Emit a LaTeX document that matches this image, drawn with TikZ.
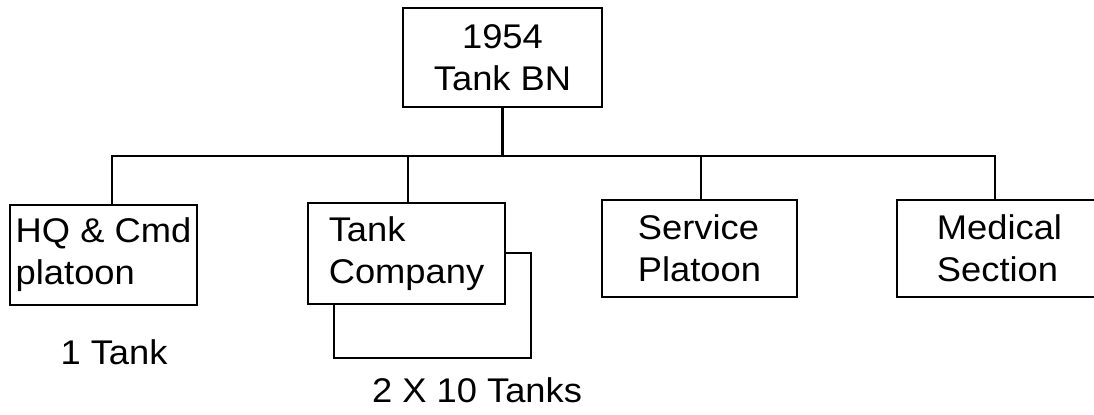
\documentclass[tikz,border=0pt]{standalone}
\usepackage{fontspec}
\setmainfont[FakeStretch=1.06]{Liberation Sans}
\usepackage{tikz}

\begin{document}
\begin{tikzpicture}[
  x=0.02cm, y=-0.02cm,
  font=\fontsize{19.5}{24}\selectfont,
  unit/.style={draw=black, line width=1.4pt, fill=white, align=left, inner sep=0pt, minimum width=3.95cm, minimum height=2cm},
  link/.style={draw=black, line width=1.4pt}
]
  \useasboundingbox (0,0) rectangle (1094,415);
  % battalion
  \node[unit, align=center, minimum width=3.98cm, minimum height=1.98cm] (bn) at (502.5,57.5) {1954\\Tank BN};
  % the four elements
  \node[unit, minimum width=3.74cm] (hq) at (103.5,255) {HQ \& Cmd\\platoon};
  \node[unit, minimum height=2.1cm] (tankbk) at (432.5,305.5) {};
  \node[unit, minimum height=2.02cm] (tankco) at (406.5,253.5) {Tank\\Company};
  \node[unit, minimum width=3.9cm, minimum height=1.94cm] (svc) at (699.5,248.5) {Service\\Platoon};
  \node[unit, minimum width=4.1cm, minimum height=1.94cm] (med) at (999.5,248.5) {Medical\\Section};
  % strengths
  \node (hqtanks) at (114,352) {1 Tank};
  \node (cotanks) at (477,390) {2 X 10 Tanks};
  % tree lines
  \draw[link] (bn.south) -- ++(0,48) coordinate (bus);
  \draw[link] (bus) -| ([xshift=0.17cm]hq.north);
  \draw[link] (bus) -| ([xshift=0.03cm]tankco.north);
  \draw[link] (bus) -| ([xshift=0.03cm]svc.north);
  \draw[link] (bus) -| ([xshift=-0.09cm]med.north);
\end{tikzpicture}
\end{document}
